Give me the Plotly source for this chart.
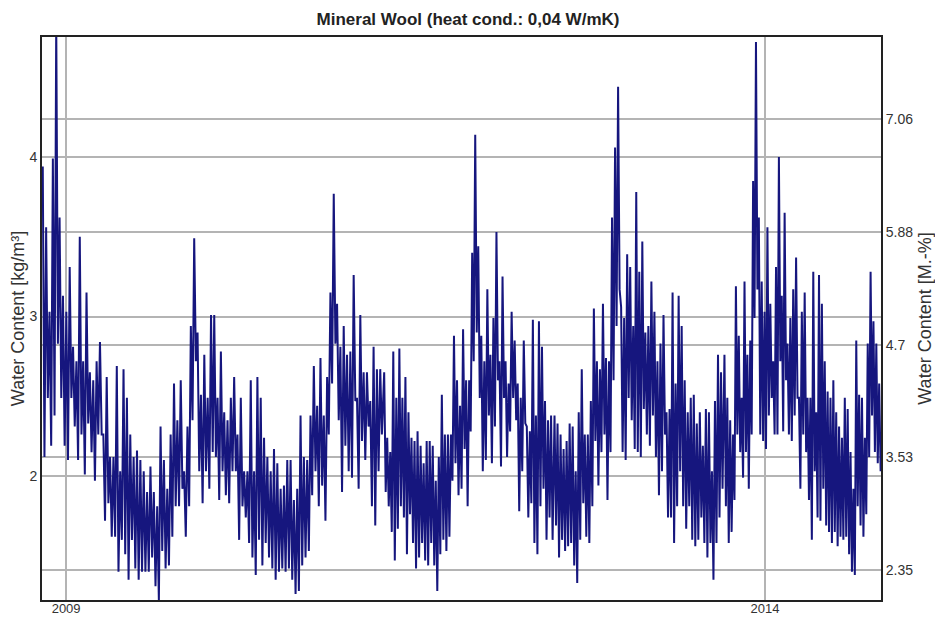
import pandas as pd
import plotly.graph_objects as go

# Water content [kg/m³]: alternating spike highs / lows, read segment by segment
seg_dates = [("2008-11-01", "2010-01-19"), ("2010-01-23", "2011-04-06"),
             ("2011-04-12", "2012-06-25"), ("2012-06-30", "2013-09-12"),
             ("2013-09-17", "2014-10-30")]

hi1 = [3.94, 3.56, 3.03, 3.99, 4.85, 3.62, 3.13, 3.03, 3.31, 2.81, 2.72, 3.50, 2.72, 3.15, 2.65, 2.60,
       2.72, 2.84, 2.26, 2.62, 2.12, 2.12, 2.69, 2.03, 2.67, 2.49, 2.26, 2.12, 2.16, 2.10, 2.03, 1.90,
       2.06, 1.90, 1.81, 2.31, 2.10, 1.92, 2.26, 2.58, 2.35, 2.60, 2.03, 2.31, 2.94, 3.49, 2.90, 2.51,
       2.76, 2.49, 3.01]
lo1 = [2.12, 2.49, 2.19, 2.38, 2.83, 2.49, 2.19, 2.10, 2.49, 2.31, 2.10, 2.26, 2.01, 2.33, 2.15, 1.97,
       2.26, 2.26, 1.72, 1.83, 1.62, 1.62, 1.40, 1.60, 1.51, 1.35, 1.60, 1.42, 1.35, 1.40, 1.40, 1.40,
       1.49, 1.31, 1.22, 1.53, 1.42, 1.44, 1.62, 1.81, 1.81, 1.92, 1.62, 1.81, 2.35, 2.72, 2.03, 1.83,
       2.03, 1.92, 2.15]

hi2 = [3.01, 2.49, 2.78, 2.40, 2.35, 2.49, 2.62, 2.26, 2.49, 2.03, 2.03, 2.60, 2.03, 2.62, 2.49, 2.24,
       2.12, 2.03, 2.17, 2.08, 1.92, 1.94, 2.10, 2.10, 1.85, 1.92, 2.38, 2.12, 2.10, 2.38, 2.69, 2.44,
       2.74, 2.38, 2.62, 3.15, 3.77, 3.08, 2.81, 2.94, 2.76, 2.78, 3.26, 2.49, 3.01, 2.65, 2.65, 2.47,
       2.81, 2.67, 2.67]
lo2 = [2.12, 1.85, 2.03, 1.88, 1.83, 2.03, 2.03, 1.60, 1.81, 1.74, 1.58, 1.49, 1.38, 1.60, 1.44, 1.58,
       1.49, 1.42, 1.35, 1.40, 1.42, 1.40, 1.42, 1.35, 1.26, 1.28, 1.44, 1.49, 1.53, 1.88, 2.03, 1.81,
       1.94, 1.72, 2.26, 2.58, 2.83, 2.35, 1.90, 2.19, 2.03, 1.99, 2.47, 1.92, 2.22, 2.10, 2.31, 1.81,
       1.69, 2.03, 2.26]

hi3 = [2.65, 2.24, 2.15, 2.78, 2.49, 2.80, 2.49, 2.62, 2.40, 2.24, 2.22, 2.28, 2.19, 2.08, 2.22, 2.22,
       2.19, 1.97, 2.12, 2.51, 2.26, 2.26, 2.26, 2.88, 2.60, 2.44, 2.92, 2.60, 2.60, 3.40, 4.14, 3.44,
       2.88, 2.72, 3.17, 2.76, 2.99, 3.53, 2.72, 3.25, 2.72, 2.58, 3.03, 2.85, 2.58, 2.49, 2.85, 2.31,
       2.28, 2.98, 2.38, 2.97, 2.81, 2.47, 2.35, 2.38]
lo3 = [1.90, 1.81, 1.65, 1.47, 1.67, 1.81, 1.74, 1.51, 1.76, 1.58, 1.42, 1.49, 1.58, 1.47, 1.44, 1.58,
       1.44, 1.28, 1.51, 1.60, 1.53, 1.62, 1.97, 2.08, 1.88, 1.92, 2.17, 1.81, 2.28, 2.72, 2.90, 2.49,
       2.03, 2.10, 2.38, 2.08, 2.31, 2.60, 2.06, 2.49, 2.12, 2.28, 2.49, 2.35, 1.78, 2.03, 2.33, 1.74,
       1.83, 1.58, 1.51, 1.81, 1.92, 1.60, 1.74, 1.60]

hi4 = [2.38, 2.33, 2.26, 2.17, 2.22, 2.33, 2.31, 2.03, 2.40, 2.67, 2.26, 2.26, 2.47, 3.05, 2.72, 2.67,
       3.08, 2.74, 2.72, 3.62, 4.06, 4.44, 3.06, 2.99, 3.39, 3.31, 2.94, 3.78, 3.28, 3.47, 2.90, 2.94,
       3.22, 3.03, 2.72, 2.83, 3.01, 2.40, 2.42, 3.15, 2.58, 3.13, 2.94, 2.60, 2.40, 2.49, 2.51, 2.33,
       2.40, 2.19, 2.42, 2.40, 2.03, 2.47, 2.76, 2.65]
lo4 = [1.69, 1.49, 1.60, 1.53, 1.56, 1.58, 1.44, 1.33, 1.60, 1.83, 1.62, 1.58, 1.81, 2.22, 1.94, 2.15,
       2.26, 1.85, 2.15, 2.60, 2.94, 3.17, 2.15, 2.10, 2.49, 2.35, 2.17, 2.15, 2.12, 2.42, 2.26, 2.19,
       2.38, 2.12, 1.88, 2.03, 2.26, 1.74, 1.74, 1.58, 1.81, 2.03, 1.81, 1.67, 1.81, 1.60, 1.56, 1.60,
       1.74, 1.58, 1.49, 1.58, 1.35, 1.58, 1.74, 1.92]

hi5 = [2.76, 2.49, 2.35, 2.26, 3.19, 2.88, 2.49, 3.22, 2.76, 2.85, 3.85, 4.72, 3.62, 3.22, 3.03, 3.56,
       3.08, 2.72, 3.31, 4.00, 3.13, 3.65, 2.83, 2.99, 3.17, 3.37, 2.49, 3.03, 3.15, 2.49, 2.49, 3.28,
       2.40, 3.26, 3.08, 2.72, 2.53, 2.49, 2.60, 2.40, 2.31, 2.24, 2.49, 2.42, 2.15, 1.92, 2.85, 2.51,
       2.49, 2.24, 2.83, 3.28, 2.97, 2.83, 2.58]
lo5 = [1.81, 1.58, 1.65, 1.85, 2.26, 2.15, 1.99, 2.15, 1.92, 2.26, 2.99, 3.17, 2.26, 2.22, 2.17, 2.38,
       2.49, 2.26, 2.26, 2.72, 2.28, 2.60, 2.26, 2.22, 2.38, 2.49, 1.92, 2.26, 2.15, 1.85, 1.60, 2.03,
       1.74, 1.72, 1.92, 1.69, 1.65, 1.58, 1.65, 1.56, 1.62, 1.60, 1.62, 1.51, 1.40, 1.38, 1.81, 1.69,
       1.62, 1.76, 2.12, 2.38, 2.15, 2.08, 2.03]

segments = [(hi1, lo1), (hi2, lo2), (hi3, lo3), (hi4, lo4), (hi5, lo5)]

left_ticks = [2, 3, 4]
right_ticks = [2.35, 3.53, 4.7, 5.88, 7.06]
right_labels = ["2.35", "3.53", "4.7", "5.88", "7.06"]
year_ticks = ["2009-01-01", "2014-01-01"]
year_labels = ["2009", "2014"]
density = 60.0  # kg/m³, converts kg/m³ to M.-%

xs, ys = [], []
for (start, end), (hi, lo) in zip(seg_dates, segments):
    vals = []
    for h, l in zip(hi, lo):
        vals += [h, l]
    xs += list(pd.date_range(start, end, periods=len(vals)))
    ys += vals

ymin, ymax = 1.223, 4.752
navy = "#16167e"
fig = go.Figure()
fig.add_trace(go.Scatter(x=xs, y=ys, mode="lines", line=dict(color=navy, width=2.0),
                         hoverinfo="skip", showlegend=False))
fig.add_trace(go.Scatter(x=xs, y=[v * 100 / density for v in ys], yaxis="y2", mode="lines",
                         line=dict(color="rgba(0,0,0,0)", width=0), hoverinfo="skip",
                         showlegend=False))

FAM = "Liberation Sans, Arial, sans-serif"
tick_font = dict(family=FAM, size=14, color="#333333")
title_font = dict(family=FAM, size=18, color="#333333")
grid_col = "#b4b4b4"
# the page body has an 8px margin, so the figure is sized 935x609
fig.update_layout(
    width=935, height=609,
    margin=dict(l=34, r=62, t=29, b=17, autoexpand=False),
    paper_bgcolor="white", plot_bgcolor="white",
    title=dict(text="<b>Mineral Wool (heat cond.: 0,04 W/mK)</b>", x=0.492, xanchor="center",
               y=0.982, yanchor="middle", automargin=False,
               font=dict(family=FAM, size=17, color="#222222")),
    xaxis=dict(type="date", range=["2008-10-30", "2014-10-31"], tickvals=year_ticks,
               ticktext=year_labels, showgrid=True, gridcolor=grid_col, gridwidth=1.5,
               showline=True, linecolor="#222222", linewidth=2, mirror=True, ticks="",
               tickfont=dict(family=FAM, size=13, color="#333333"), ticklabelstandoff=-5,
               zeroline=False, automargin=False),
    yaxis=dict(range=[ymin, ymax], tickvals=left_ticks, showgrid=True, gridcolor=grid_col,
               gridwidth=1.5, showline=True, linecolor="#222222", linewidth=2, ticks="",
               tickfont=tick_font, zeroline=False, automargin=False,
               title=dict(text="Water Content [kg/m³]", standoff=6, font=title_font)),
    yaxis2=dict(overlaying="y", side="right", range=[ymin * 100 / density, ymax * 100 / density],
                tickvals=right_ticks, ticktext=right_labels, showgrid=True, gridcolor=grid_col,
                gridwidth=1.5, showline=True, linecolor="#222222", linewidth=2, ticks="",
                tickfont=tick_font, zeroline=False, automargin=False,
                title=dict(text="Water Content [M.-%]", standoff=6, font=title_font)),
)
fig.write_html("out.html")
